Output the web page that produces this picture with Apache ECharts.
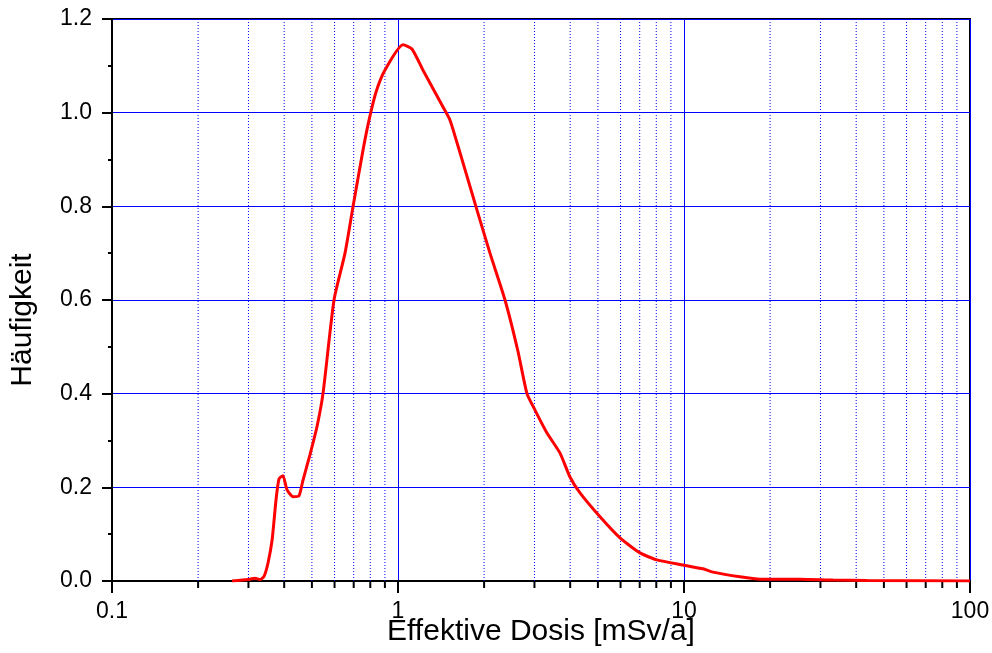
<!DOCTYPE html>
<html>
<head>
<meta charset="utf-8">
<script src="https://cdn.jsdelivr.net/npm/echarts@6/dist/echarts.min.js"></script>
<style>
  html, body { margin: 0; padding: 0; background: #fff; }
  #chart { width: 992px; height: 653px; }
</style>
</head>
<body>
<div id="chart"></div>
<script>
// Dose distribution: effective dose (mSv/a, log scale) vs. frequency
const doseValues = [0.263, 0.299, 0.316, 0.329, 0.34, 0.351, 0.363, 0.3745, 0.3837, 0.396,
  0.409, 0.4295, 0.4506, 0.4653, 0.4924, 0.521, 0.5467, 0.5974, 0.6527, 0.696,
  0.7545, 0.792, 0.838, 0.9006, 1.041, 1.119, 1.222, 1.437, 1.52, 1.648,
  1.889, 2.097, 2.367, 2.628, 2.825, 3.013, 3.319, 3.686, 3.993, 4.329,
  5.086, 5.974, 7.018, 8.045, 9.92, 11.65, 12.63, 15.7, 18.44, 25.4,
  33.2, 43.6, 100];
const frequency = [0, 0.003, 0.006, 0.003, 0.01, 0.038, 0.088, 0.173, 0.218, 0.225,
  0.195, 0.18, 0.182, 0.215, 0.27, 0.33, 0.40, 0.60, 0.70, 0.799,
  0.92, 0.984, 1.044, 1.091, 1.145, 1.136, 1.091, 1.012, 0.984, 0.914,
  0.792, 0.70, 0.60, 0.49, 0.40, 0.365, 0.316, 0.273, 0.222, 0.188,
  0.137, 0.092, 0.06, 0.045, 0.034, 0.026, 0.019, 0.009, 0.004, 0.004,
  0.002, 0.001, 0];

// Intermediate decade positions (2..9 of each decade) for dotted grid and small ticks
const minorDose = [0.2, 0.3, 0.4, 0.5, 0.6, 0.7, 0.8, 0.9,
  2, 3, 4, 5, 6, 7, 8, 9,
  20, 30, 40, 50, 60, 70, 80, 90];

const xTitle = 'Effektive Dosis [mSv/a]';
const yTitle = 'Häufigkeit';

const chart = echarts.init(document.getElementById('chart'), null, { renderer: 'canvas' });
const font = 'Liberation Sans, Arial, sans-serif';

chart.setOption({
  animation: false,
  backgroundColor: '#ffffff',
  grid: {
    left: 112, right: 22, top: 19, bottom: 72,
    outerBoundsMode: 'none',
    containLabel: false,
    show: true, borderColor: '#000', borderWidth: 2, backgroundColor: 'transparent'
  },
  xAxis: {
    type: 'log', logBase: 10, min: 0.1, max: 100,
    name: xTitle, nameLocation: 'middle', nameGap: 36, nameMoveOverlap: false,
    nameTextStyle: { fontFamily: font, fontSize: 30, color: '#000' },
    axisLine: { show: true, lineStyle: { color: '#000', width: 2 } },
    axisTick: { show: true, length: 12, lineStyle: { color: '#000', width: 2 } },
    axisLabel: {
      fontFamily: font, fontSize: 23, color: '#000', margin: 19,
      formatter: v => String(Number(v.toPrecision(3)))
    },
    splitLine: { show: true, lineStyle: { color: '#0000ff', width: 1 } },
    minorTick: { show: false },
    minorSplitLine: { show: false }
  },
  yAxis: {
    type: 'value', min: 0, max: 1.2, interval: 0.2,
    name: yTitle, nameLocation: 'middle', nameGap: 74, nameRotate: 90, nameMoveOverlap: false,
    nameTextStyle: { fontFamily: font, fontSize: 30, color: '#000', padding: [0, 40, 0, 0] },
    axisLine: { show: true, lineStyle: { color: '#000', width: 2 } },
    axisTick: { show: true, length: 10, lineStyle: { color: '#000', width: 2 } },
    minorTick: { show: true, splitNumber: 2, length: 4, lineStyle: { color: '#000', width: 2 } },
    axisLabel: {
      fontFamily: font, fontSize: 23, color: '#000', margin: 20,
      formatter: v => v.toFixed(1)
    },
    splitLine: { show: true, lineStyle: { color: '#0000ff', width: 1 } }
  },
  series: [
    {
      // dotted intermediate grid lines plus short ticks below the x axis
      type: 'custom',
      silent: true,
      clip: false,
      z: 1,
      data: minorDose.map(d => [d, 0]),
      encode: { x: 0, y: 1 },
      renderItem: (params, api) => {
        const x = api.value(0);
        const bottom = api.coord([x, 0]);
        const top = api.coord([x, 1.2]);
        return {
          type: 'group',
          children: [
            {
              type: 'line',
              shape: { x1: bottom[0], y1: bottom[1], x2: top[0], y2: top[1] },
              style: { stroke: '#0000ff', lineWidth: 1, lineDash: [1, 2] }
            },
            {
              type: 'line',
              shape: { x1: bottom[0], y1: bottom[1], x2: bottom[0], y2: bottom[1] + 7 },
              style: { stroke: '#000', lineWidth: 2 }
            }
          ]
        };
      }
    },
    {
      type: 'line',
      data: doseValues.map((d, i) => [d, frequency[i]]),
      showSymbol: false,
      smooth: 0.2,
      z: 5,
      lineStyle: { color: '#ff0000', width: 3 },
      itemStyle: { color: '#ff0000' }
    }
  ]
});
</script>
</body>
</html>
